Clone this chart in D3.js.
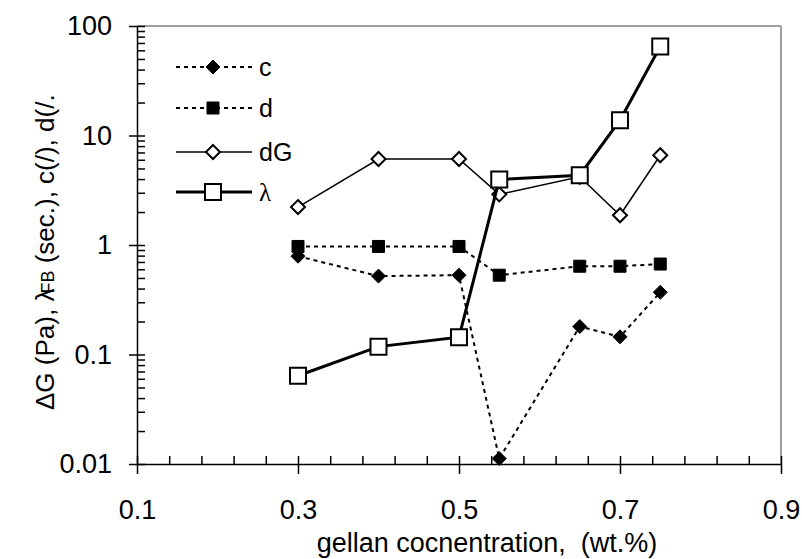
<!DOCTYPE html>
<meta charset="utf-8">
<style>
  body { margin: 0; background: #fff; }
  svg text { font-family: "Liberation Sans", Arial, sans-serif; fill: #000; }
</style>

<!-- Load d3.js -->
<script src="https://d3js.org/d3.v7.min.js"></script>

<div id="chart"></div>

<script>

// data
var conc       = [0.3, 0.4, 0.5, 0.55, 0.65, 0.7, 0.75];
var cVals      = [0.79, 0.52, 0.53, 0.0112, 0.18, 0.145, 0.37];
var dVals      = [0.97, 0.97, 0.97, 0.53, 0.64, 0.64, 0.67];
var dGVals     = [2.22, 6.1, 6.1, 2.9, 4.2, 1.87, 6.6];
var lambdaVals = [0.064, 0.118, 0.144, 3.96, 4.34, 13.8, 65];

var xTicks = [0.1, 0.3, 0.5, 0.7, 0.9];
var yTicks = [0.01, 0.1, 1, 10, 100];
var yTickLabels = ["0.01", "0.1", "1", "10", "100"];

var W = 802, H = 559;
var plotL = 137, plotR = 781, plotT = 26, plotB = 464;

var svg = d3.select("#chart")
  .append("svg")
    .attr("width", W)
    .attr("height", H);

var x = d3.scaleLinear().domain([0.1, 0.9]).range([plotL, plotR]);
var y = d3.scaleLog().domain([0.01, 100]).range([plotB, plotT]);

// frame: top and right in grey
svg.append("line")
  .attr("x1", plotL).attr("x2", plotR).attr("y1", plotT).attr("y2", plotT)
  .attr("stroke", "#808080").attr("stroke-width", 1.5);
svg.append("line")
  .attr("x1", plotR).attr("x2", plotR).attr("y1", plotT).attr("y2", plotB)
  .attr("stroke", "#808080").attr("stroke-width", 1.5);

// minor ticks
var xMinor = d3.range(0, 21).map(i => +(0.1 + i * 0.04).toFixed(2));
var yMinor = [];
[0.01, 0.1, 1, 10].forEach(function(p) {
  for (var k = 1; k <= 9; k++) yMinor.push(+(p * k).toPrecision(2));
});
yMinor.push(100);

// Y axis, ticks outside with labels
var yAxis = svg.append("g")
  .attr("transform", "translate(" + plotL + ",0)")
  .call(d3.axisLeft(y)
    .tickValues(yTicks)
    .tickFormat((d, i) => yTickLabels[i])
    .tickSizeInner(8).tickSizeOuter(0).tickPadding(17));
yAxis.selectAll("text").style("font-size", "27px");

// Y inner ticks
svg.append("g")
  .attr("transform", "translate(" + plotL + ",0)")
  .call(d3.axisRight(y).tickValues(yMinor).tickFormat("").tickSize(8))
  .select(".domain").remove();

// X axis, ticks outside with labels
var xAxis = svg.append("g")
  .attr("transform", "translate(0," + plotB + ")")
  .call(d3.axisBottom(x)
    .tickValues(xTicks)
    .tickFormat(d3.format(".1f"))
    .tickSizeInner(10).tickSizeOuter(0).tickPadding(45));
xAxis.selectAll("text").style("font-size", "27px").attr("dy", "0");

// X inner ticks
svg.append("g")
  .attr("transform", "translate(0," + plotB + ")")
  .call(d3.axisTop(x).tickValues(xMinor).tickFormat("").tickSize(8))
  .select(".domain").remove();

svg.selectAll(".domain").attr("stroke", "#000").attr("stroke-width", 1.5);
svg.selectAll(".tick line").attr("stroke", "#000").attr("stroke-width", 1.5);

// axis titles
svg.append("text")
  .attr("x", 487)
  .attr("y", 552)
  .attr("text-anchor", "middle")
  .style("font-size", "27px")
  .style("white-space", "pre")
  .text("gellan cocnentration,  (wt.%)");

var yt = svg.append("text")
  .attr("transform", "translate(54,410) rotate(-90)")
  .attr("text-anchor", "start")
  .style("font-size", "26px");
yt.append("tspan").text("\u0394G (Pa), \u03bb");
yt.append("tspan").attr("dx", -5).style("font-size", "18px").text("FB");
yt.append("tspan").text(" (sec.), c(/), d(/.");

// series
var series = [
  {name: "c",  vals: cVals,      dash: "4,4", width: 2,   marker: "diamond", fill: "#000", size: 7},
  {name: "d",  vals: dVals,      dash: "4,4", width: 2,   marker: "square",  fill: "#000", size: 6},
  {name: "dG", vals: dGVals,     dash: null,  width: 1.5, marker: "diamond", fill: "#fff", size: 7},
  {name: "\u03bb", vals: lambdaVals, dash: null, width: 3, marker: "square", fill: "#fff", size: 8}
];

function markerPath(type, s) {
  if (type == "diamond") return "M0," + (-s) + "L" + s + ",0L0," + s + "L" + (-s) + ",0Z";
  return "M" + (-s) + "," + (-s) + "H" + s + "V" + s + "H" + (-s) + "Z";
}

var line = d3.line()
  .x(d => x(d[0]))
  .y(d => y(d[1]));

series.forEach(function(s) {
  var pts = conc.map((c, i) => [c, s.vals[i]]);
  svg.append("path")
    .datum(pts)
    .attr("fill", "none")
    .attr("stroke", "#000")
    .attr("stroke-width", s.width)
    .attr("stroke-dasharray", s.dash)
    .attr("d", line);
  svg.append("g")
    .selectAll("path")
    .data(pts)
    .enter()
    .append("path")
      .attr("transform", d => "translate(" + x(d[0]) + "," + y(d[1]) + ")")
      .attr("d", markerPath(s.marker, s.size))
      .attr("fill", s.fill)
      .attr("stroke", "#000")
      .attr("stroke-width", s.fill == "#fff" ? 2 : 1);
});

// legend
var legend = svg.append("g");
var rowY = [67, 108, 152, 192];
series.forEach(function(s, i) {
  var g = legend.append("g").attr("transform", "translate(0," + rowY[i] + ")");
  g.append("line")
    .attr("x1", 176).attr("x2", 252)
    .attr("stroke", "#000")
    .attr("stroke-width", s.width)
    .attr("stroke-dasharray", s.dash);
  g.append("path")
    .attr("transform", "translate(213,0)")
    .attr("d", markerPath(s.marker, s.size))
    .attr("fill", s.fill)
    .attr("stroke", "#000")
    .attr("stroke-width", s.fill == "#fff" ? 2 : 1);
  g.append("text")
    .attr("x", 259)
    .attr("dy", "0.35em")
    .style("font-size", "25px")
    .style("font-family", i == 3 ? "'Liberation Serif', serif" : null)
    .text(s.name);
});

</script>
